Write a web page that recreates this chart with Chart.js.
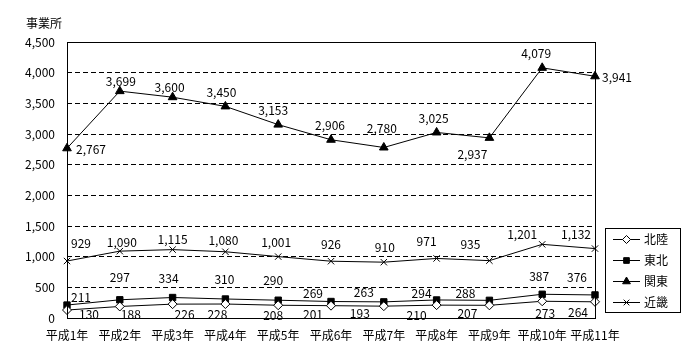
<!DOCTYPE html>
<html><head><meta charset="utf-8">
<script src="https://cdn.jsdelivr.net/npm/chart.js@4/dist/chart.umd.min.js"></script>
<style>html,body{margin:0;padding:0;background:#fff}canvas{display:block}</style>
</head><body>
<canvas id="c" width="700" height="360"></canvas>
<script>
const categories = ['平成1年','平成2年','平成3年','平成4年','平成5年','平成6年','平成7年','平成8年','平成9年','平成10年','平成11年'];
const hokuriku = [130,188,226,228,208,201,193,210,207,273,264];
const tohoku   = [211,297,334,310,290,269,263,294,288,387,376];
const kanto    = [2767,3699,3600,3450,3153,2906,2780,3025,2937,4079,3941];
const kinki    = [929,1090,1115,1080,1001,926,910,971,935,1201,1132];
const seriesNames = ['北陸','東北','関東','近畿'];
const yTicks = [0,500,1000,1500,2000,2500,3000,3500,4000,4500];
const yTitle = '事業所';

// label offsets (styling) relative to each point
const labelOffsets = [
  {dx:[22,11,12,-8,-5,-18,-24,-20,-22,3,-17], dy:[4,8,10,10,10,9,7,10,8,12,11]},
  {dx:[14,0,-4,-1,-5,-18,-20,-15,-24,-3,-18], dy:[-8,-22,-19,-20,-20,-8,-9,-7,-7,-18,-18]},
  {dx:[24,1,-3,-4,-5,-1,-2,-3,-17,-6,22], dy:[1,-10,-10,-14,-14,-14,-19,-14,17,-14,1]},
  {dx:[14,2,0,-2,-2,0,1,-10,-19,-20,-19], dy:[-18,-9,-10,-11,-14,-17,-15,-17,-16,-10,-14]}
];
const FONT = '12px "Noto Sans CJK JP", sans-serif';
const styles = [
  {pointStyle:'rectRot', bg:'#fff', r:4.5},
  {pointStyle:'rect', bg:'#000', r:4.5},
  {pointStyle:'triangle', bg:'#000', r:5},
  {pointStyle:'crossRot', bg:'#000', r:4.5}
];
const seriesData = [hokuriku, tohoku, kanto, kinki];
const fmt = v => v.toLocaleString('en-US');

const datasets = seriesData.map((d,i)=>({
  label: seriesNames[i], data: d,
  borderColor:'#000', borderWidth:1, tension:0,
  pointStyle: styles[i].pointStyle, pointRadius: styles[i].r,
  pointBackgroundColor: styles[i].bg, pointBorderColor:'#000', pointBorderWidth:1,
  clip:false
}));

const deco = {
  id:'deco',
  afterDatasetsDraw(chart){
    const ctx = chart.ctx, a = chart.chartArea;
    ctx.save();
    ctx.strokeStyle='#000'; ctx.lineWidth=1;
    ctx.strokeRect(Math.round(a.left)+0.5, Math.round(a.top)+0.5, Math.round(a.right-a.left), Math.round(a.bottom-a.top));
    ctx.font = FONT; ctx.fillStyle='#000'; ctx.textAlign='center'; ctx.textBaseline='middle';
    chart.data.datasets.forEach((ds,i)=>{
      const meta = chart.getDatasetMeta(i);
      meta.data.forEach((p,j)=>{
        ctx.fillText(fmt(ds.data[j]), p.x + labelOffsets[i].dx[j], p.y + labelOffsets[i].dy[j]);
      });
    });
    // y title
    ctx.textAlign='center';
    ctx.fillText(yTitle, a.left-23, a.top-19);
    // legend
    const lx = a.right + 10, ly = 228, lw = 75, lh = 84;
    ctx.strokeRect(Math.round(lx)+0.5, ly+0.5, lw, lh);
    seriesNames.forEach((n,i)=>{
      const y = ly + 11 + i*21;
      ctx.strokeStyle='#000';
      ctx.beginPath(); ctx.moveTo(lx+8, y+0.5); ctx.lineTo(lx+35, y+0.5); ctx.stroke();
      ctx.fillStyle = styles[i].bg;
      Chart.helpers.drawPoint(ctx, {pointStyle:styles[i].pointStyle, radius:styles[i].r-0.5, rotation:0, borderWidth:1}, lx+21.5, y+0.5);
      ctx.fillStyle='#000';
      ctx.textAlign='left';
      ctx.fillText(n, lx+39, y);
    });
    ctx.restore();
  }
};

new Chart(document.getElementById('c'), {
  type:'line',
  data:{labels:categories, datasets},
  options:{
    responsive:false, maintainAspectRatio:false, animation:false, devicePixelRatio:1,
    layout:{padding:{left:0, top:42, right:105, bottom:0}},
    plugins:{legend:{display:false}, tooltip:{enabled:false}},
    scales:{
      x:{
        offset:false,
        grid:{display:false, drawTicks:false},
        border:{display:false},
        ticks:{color:'#000', font:{family:'"Noto Sans CJK JP", sans-serif', size:12}, padding:10, maxRotation:0, autoSkip:false},
        afterFit(s){ s.height = 42; }
      },
      y:{
        min:0, max:4500,
        afterBuildTicks(s){ s.ticks = yTicks.map(v=>({value:v})); },
        grid:{color:'#000', lineWidth:1, drawTicks:false},
        border:{display:false, dash:[5,3]},
        ticks:{color:'#000', font:{family:'"Noto Sans CJK JP", sans-serif', size:12}, padding:12, callback:v=>fmt(v)},
        afterFit(s){ s.width = 67; }
      }
    }
  },
  plugins:[deco]
});
</script>
</body></html>
